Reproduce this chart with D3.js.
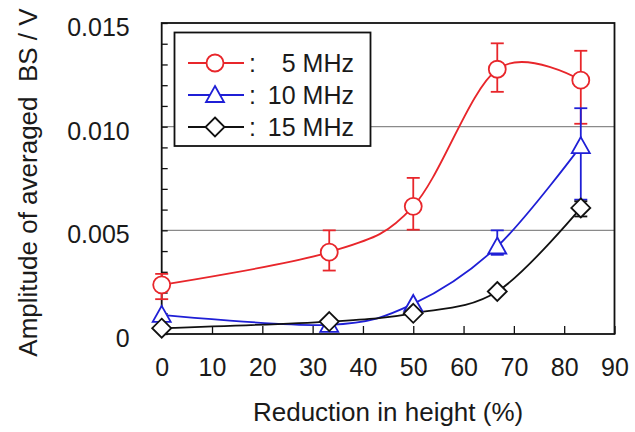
<!DOCTYPE html>
<html>
<head>
<meta charset="utf-8">
<script src="https://cdn.jsdelivr.net/npm/d3@7"></script>
<style>
  html, body { margin: 0; padding: 0; background: #fff; }
  svg text { font-family: "Liberation Sans", Arial, sans-serif; fill: #1a1a1a; }
</style>
</head>
<body>
<svg id="chart" width="635" height="432"></svg>
<script>
// Reduction in height (%) at each measured specimen
const reduction = [0, 33.3, 50, 66.7, 83.3];

// Averaged backscatter amplitude (V) per frequency
const amp5MHz  = [0.00237, 0.00395, 0.00616, 0.01277, 0.01224];
const amp10MHz = [0.00092, 0.00044, 0.00145, 0.00422, 0.00906];
const amp15MHz = [0.00028, 0.00060, 0.00100, 0.00205, 0.00608];

// Error bar extents (low, high); null where no bar is drawn
const err5MHzLo  = [0.00168, 0.00306, 0.00503, 0.01168, 0.01014];
const err5MHzHi  = [0.00290, 0.00500, 0.00753, 0.01402, 0.01366];
const err10MHzLo = [null, null, null, 0.00382, 0.00648];
const err10MHzHi = [null, null, null, 0.00500, 0.01089];
const err15MHzLo = [null, null, null, null, 0.00567];
const err15MHzHi = [null, null, null, null, 0.00640];

const seriesNames = ["5 MHz", "10 MHz", "15 MHz"];
const xTicks = [0, 10, 20, 30, 40, 50, 60, 70, 80, 90];
const yLabelTicks = [0, 0.005, 0.010, 0.015];
const yGridTicks = [0.005, 0.010];

const xTitle = "Reduction in height (%)";
const yTitle = "Amplitude of averaged  BS / V";

const svg = d3.select("#chart");
const plotL = 161.7, plotR = 614.5, plotT = 23, plotB = 334;

const x = d3.scaleLinear().domain([0, 90]).range([plotL, plotR]);
const y = d3.scaleLinear().domain([0, 0.015]).range([plotB, plotT]);

const series = [
  { name: seriesNames[0], values: amp5MHz,  lo: err5MHzLo,  hi: err5MHzHi,  color: "#e8262b", shape: "circle" },
  { name: seriesNames[1], values: amp10MHz, lo: err10MHzLo, hi: err10MHzHi, color: "#1f1fd6", shape: "triangle" },
  { name: seriesNames[2], values: amp15MHz, lo: err15MHzLo, hi: err15MHzHi, color: "#111111", shape: "diamond" }
];

// Horizontal gridlines
svg.append("g").selectAll("line").data(yGridTicks).join("line")
  .attr("x1", plotL).attr("x2", plotR)
  .attr("y1", d => y(d)).attr("y2", d => y(d))
  .attr("stroke", "#8a8a8a").attr("stroke-width", 1.3);

// Minor ticks on the left axis, every 0.001, pointing inward
const yMinor = d3.range(0, 16).map(i => i * 0.001);
svg.append("g").attr("transform", `translate(${plotL},0)`)
  .call(d3.axisRight(y).tickValues(yMinor).tickSize(6).tickFormat(""))
  .call(g => g.select(".domain").remove())
  .call(g => g.selectAll("line").attr("stroke", "#111").attr("stroke-width", 1.3));

// Bottom axis ticks pointing inward
svg.append("g").attr("transform", `translate(0,${plotB})`)
  .call(d3.axisTop(x).tickValues(xTicks).tickSize(8).tickFormat(""))
  .call(g => g.select(".domain").remove())
  .call(g => g.selectAll("line").attr("stroke", "#111").attr("stroke-width", 1.3));

// Bottom tick labels
svg.append("g").attr("transform", `translate(0,${plotB})`)
  .call(d3.axisBottom(x).tickValues(xTicks).tickSize(0).tickPadding(24).tickFormat(d3.format("d")))
  .call(g => g.select(".domain").remove())
  .call(g => g.selectAll("text").attr("font-size", 25).attr("fill", "#1a1a1a")
    .attr("font-family", "Liberation Sans, Arial, sans-serif"));

// Left tick labels
svg.append("g").attr("transform", `translate(${plotL},0)`)
  .call(d3.axisLeft(y).tickValues(yLabelTicks).tickSize(0).tickPadding(32)
    .tickFormat(d => d === 0 ? "0" : d3.format(".3f")(d)))
  .call(g => g.select(".domain").remove())
  .call(g => g.selectAll("text").attr("font-size", 25).attr("fill", "#1a1a1a")
    .attr("dy", "0.5em")
    .attr("font-family", "Liberation Sans, Arial, sans-serif"));

// Plot frame
svg.append("rect").attr("x", plotL).attr("y", plotT)
  .attr("width", plotR - plotL).attr("height", plotB - plotT)
  .attr("fill", "none").attr("stroke", "#111").attr("stroke-width", 1.8);

// Axis titles
svg.append("text").attr("x", (plotL + plotR) / 2).attr("y", 421)
  .attr("text-anchor", "middle").attr("font-size", 26).text(xTitle);
svg.append("text").attr("transform", `translate(37,${(plotT + plotB) / 2 + 4}) rotate(-90)`)
  .attr("text-anchor", "middle").attr("font-size", 26)
  .attr("xml:space", "preserve").style("white-space", "pre").text(yTitle);

// Marker drawing helper
function marker(sel, shape, color) {
  if (shape === "circle") {
    sel.append("circle").attr("r", 8.5);
  } else if (shape === "triangle") {
    sel.append("path").attr("d", "M0,-9 L9,7 L-9,7 Z");
  } else {
    sel.append("path").attr("d", "M0,-9.5 L9.5,0 L0,9.5 L-9.5,0 Z");
  }
  sel.selectAll("circle,path").attr("fill", "#fff").attr("stroke", color).attr("stroke-width", 1.8);
}

const line = d3.line().x((d, i) => x(reduction[i])).y(d => y(d))
  .curve(d3.curveCardinal.tension(0));

series.forEach(s => {
  const g = svg.append("g");
  g.append("path").attr("d", line(s.values))
    .attr("fill", "none").attr("stroke", s.color).attr("stroke-width", 1.8);

  // Error bars
  const bars = reduction.map((r, i) => ({ r, lo: s.lo[i], hi: s.hi[i] })).filter(d => d.lo !== null);
  const eb = g.append("g").attr("stroke", s.color).attr("stroke-width", 1.8);
  eb.selectAll("line.v").data(bars).join("line").attr("class", "v")
    .attr("x1", d => x(d.r)).attr("x2", d => x(d.r))
    .attr("y1", d => y(d.lo)).attr("y2", d => y(d.hi));
  eb.selectAll("line.lo").data(bars).join("line").attr("class", "lo")
    .attr("x1", d => x(d.r) - 6.5).attr("x2", d => x(d.r) + 6.5)
    .attr("y1", d => y(d.lo)).attr("y2", d => y(d.lo));
  eb.selectAll("line.hi").data(bars).join("line").attr("class", "hi")
    .attr("x1", d => x(d.r) - 6.5).attr("x2", d => x(d.r) + 6.5)
    .attr("y1", d => y(d.hi)).attr("y2", d => y(d.hi));
});

// Markers drawn above lines and bars
series.forEach(s => {
  s.values.forEach((v, i) => {
    const m = svg.append("g").attr("transform", `translate(${x(reduction[i])},${y(v)})`);
    marker(m, s.shape, s.color);
  });
});

// Legend
const lg = svg.append("g");
lg.append("rect").attr("x", 174.5).attr("y", 32.5).attr("width", 196).attr("height", 113.5)
  .attr("fill", "#fff").attr("stroke", "#111").attr("stroke-width", 1.8);
series.forEach((s, i) => {
  const cy = 63 + i * 32;
  lg.append("line").attr("x1", 188).attr("x2", 244).attr("y1", cy).attr("y2", cy)
    .attr("stroke", s.color).attr("stroke-width", 1.8);
  const m = lg.append("g").attr("transform", `translate(215,${cy})`);
  marker(m, s.shape, s.color);
  lg.append("text").attr("x", 249).attr("y", cy + 9).attr("font-size", 25).text(":");
  lg.append("text").attr("x", 354).attr("y", cy + 9).attr("text-anchor", "end")
    .attr("font-size", 25).text(s.name);
});
</script>
</body>
</html>
